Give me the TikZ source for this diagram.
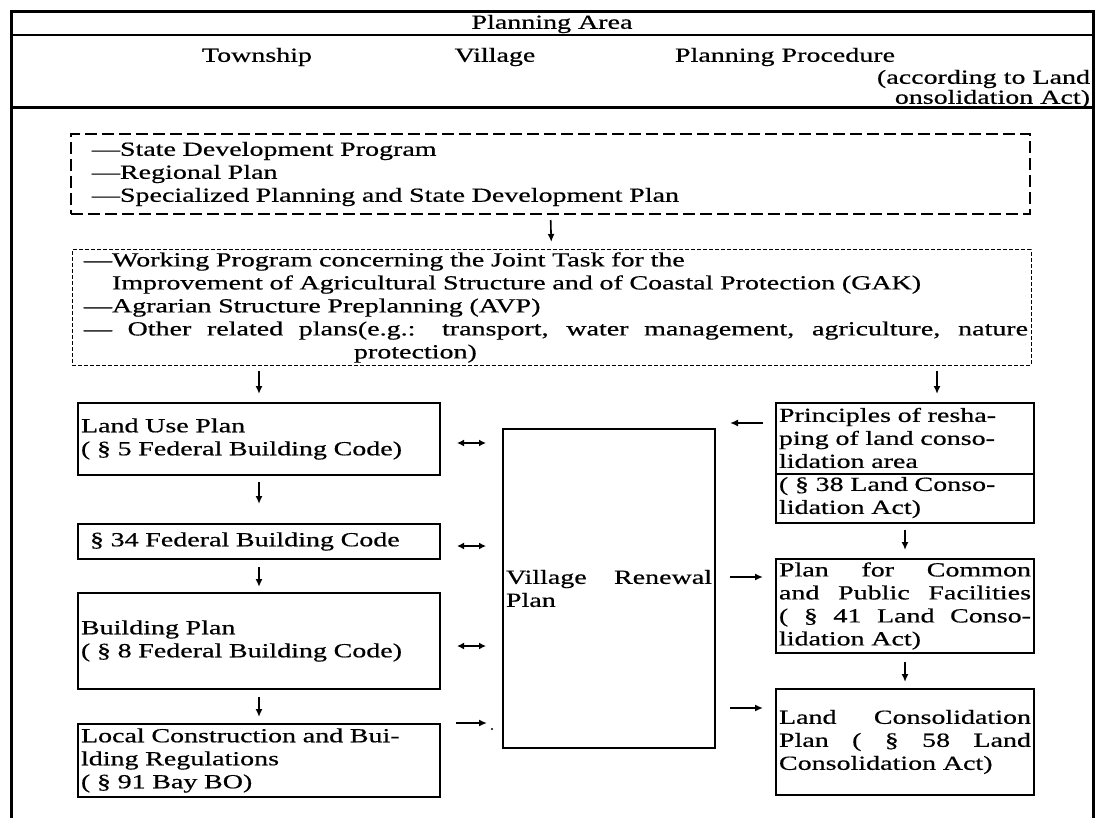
\documentclass[tikz,border=0pt]{standalone}
\usepackage{fontspec}
\setmainfont{Liberation Serif}[FakeStretch=1.4, FakeBold=0.6]
\usetikzlibrary{arrows.meta}
\setlength{\parindent}{0pt}
\newcommand\jline[2]{\makebox[#1][s]{\spaceskip=0pt\xspaceskip=0pt #2}}
\begin{document}
\begin{tikzpicture}[x=1pt,y=-1pt,
  every node/.style={font=\fontsize{20}{23}\selectfont, inner sep=0pt, outer sep=0pt},
  box/.style={draw, line width=1.6pt, inner xsep=3pt, inner ysep=0pt, align=left, anchor=north west},
  txt/.style={align=left, anchor=west},
  arr/.style={-{Latex[length=8pt,width=7pt]}, line width=1.6pt},
  dbl/.style={{Latex[length=7pt,width=7pt]}-{Latex[length=7pt,width=7pt]}, line width=1.6pt},
  thickdash/.style={draw, line width=2.4pt, dash pattern=on 12pt off 5pt},
  thindash/.style={draw, line width=1pt, dash pattern=on 4pt off 2pt},
  frameline/.style={line width=3pt},
]
\useasboundingbox (0,0) rectangle (1097,818);

% outer frame and header
\draw[frameline] (11,818) -- (11,12) -- (1093,12) -- (1093,818);
\draw[line width=2pt] (11,35) -- (1093,35);
\draw[line width=3pt] (11,108) -- (1093,108);
\node (hdr) at (552,24) {Planning Area};
\node (town) at (257,57) {Township};
\node (vill) at (495,57) {Village};
\node[anchor=west] (proc) at (675,57) {Planning Procedure};
\node[anchor=east] (acc1) at (1090,79) {(according to Land};
\node[anchor=east] (acc2) at (1090,99) {onsolidation Act)};

% top dashed boxes
\node[thickdash, minimum width=959pt, minimum height=80pt, anchor=north west] (sdp) at (71,134) {};
\node[txt, text width=900pt] (sdptxt) at ([xshift=21pt]sdp.west)
  {—State Development Program\\—Regional Plan\\—Specialized Planning and State Development Plan};

\node[thindash, minimum width=959pt, minimum height=115pt, anchor=north west] (gak) at (72,250) {};
\node[txt, text width=944pt] (gaktxt) at ([xshift=12pt]gak.west)
  {—Working Program concerning the Joint Task for the\\
   \hphantom{—}Improvement of Agricultural Structure and of Coastal Protection (GAK)\\
   —Agrarian Structure Preplanning (AVP)\\
   \jline{944pt}{— Other related plans(e.g.: transport, water management, agriculture, nature}\\
   \hspace*{270pt}protection)};

% left column
\node[box, minimum width=362pt, minimum height=72pt, text width=356pt] (lu) at (78,403)
  {Land Use Plan\\( § 5 Federal Building Code)};
\node[box, minimum width=362pt, minimum height=35pt, text width=356pt] (s34) at (78,524)
  {\hspace*{9pt}§ 34 Federal Building Code};
\node[box, minimum width=362pt, minimum height=96pt, text width=356pt] (bp) at (78,593)
  {Building Plan\\( § 8 Federal Building Code)};
\node[box, minimum width=362pt, minimum height=73pt, text width=356pt] (lc) at (78,724)
  {Local Construction and Bui-\\lding Regulations\\( § 91 Bay BO)};

% middle
\node[box, minimum width=212pt, minimum height=319pt, text width=206pt] (vrp) at (503,429)
  {\jline{206pt}{Village Renewal}\\Plan};

% right column
\node[box, minimum width=258pt, minimum height=120pt, text width=252pt] (pr) at (776,403)
  {Principles of resha-\\ping of land conso-\\lidation area\\( § 38 Land Conso-\\lidation Act)};
\draw[line width=2.6pt] (pr.north west) rectangle ([yshift=-71pt]pr.north east);
\node[box, minimum width=258pt, minimum height=94pt, text width=252pt] (pcf) at (776,559)
  {\jline{252pt}{Plan for Common}\\\jline{252pt}{and Public Facilities}\\\jline{252pt}{( § 41 Land Conso-}\\lidation Act)};
\node[box, minimum width=258pt, minimum height=106pt, text width=252pt] (lcp) at (776,689)
  {\jline{252pt}{Land Consolidation}\\\jline{252pt}{Plan ( § 58 Land}\\Consolidation Act)};

% vertical arrows
\draw[arr, shorten <=6pt, shorten >=8pt] (sdp.south) -- (gak.north);
\draw[arr, shorten <=6pt, shorten >=9pt] (gak.south -| lu.north) -- (lu.north);
\coordinate (prin) at ([xshift=32pt]pr.north);
\draw[arr, shorten <=6pt, shorten >=9pt] (gak.south -| prin) -- (prin);
\draw[arr, shorten <=7pt, shorten >=20pt] (lu.south) -- (s34.north);
\draw[arr, shorten <=8pt, shorten >=6pt] (s34.south) -- (bp.north);
\draw[arr, shorten <=8pt, shorten >=7pt] (bp.south) -- (lc.north);
\draw[arr, shorten <=7pt, shorten >=9pt] (pr.south) -- (pcf.north);
\draw[arr, shorten <=9pt, shorten >=7pt] (pcf.south) -- (lcp.north);

% horizontal arrows
\coordinate (d1a) at (457,443); \coordinate (d1b) at (486,443);
\coordinate (d2a) at (457,546); \coordinate (d2b) at (486,546);
\coordinate (d3a) at (457,646); \coordinate (d3b) at (486,646);
\coordinate (d4a) at (456,723); \coordinate (d4b) at (487,723);
\draw[dbl] (d1a) -- (d1b);
\draw[dbl] (d2a) -- (d2b);
\draw[dbl] (d3a) -- (d3b);
\draw[arr] (d4a) -- (d4b);
\fill (492,729) circle (1.2pt);
\coordinate (r1a) at (763,423); \coordinate (r1b) at (730,423);
\coordinate (r2a) at (730,577); \coordinate (r2b) at (763,577);
\coordinate (r3a) at (730,708); \coordinate (r3b) at (763,708);
\draw[arr] (r1a) -- (r1b);
\draw[arr] (r2a) -- (r2b);
\draw[arr] (r3a) -- (r3b);
\end{tikzpicture}
\end{document}
